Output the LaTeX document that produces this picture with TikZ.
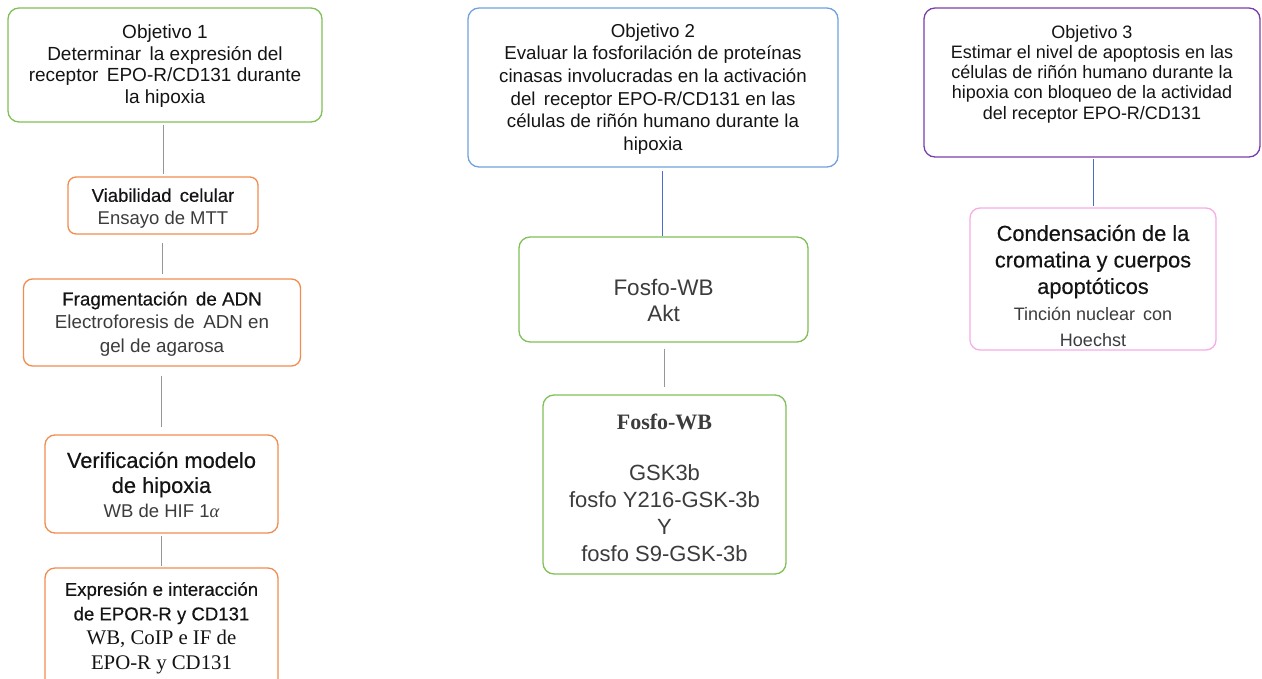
\documentclass[tikz,border=0pt]{standalone}
\usepackage{fontspec}
\setmainfont{Liberation Sans}
\newfontfamily\seriffont{Liberation Serif}
\newfontfamily\heavyfont[FakeBold=0.35]{Liberation Sans}
\definecolor{cgreen}{RGB}{128,192,88}
\definecolor{corange}{RGB}{240,140,78}
\definecolor{cblue}{RGB}{112,162,222}
\definecolor{cpurple}{RGB}{122,62,170}
\definecolor{cpink}{RGB}{246,172,230}
\definecolor{cgray}{RGB}{150,150,150}
\definecolor{cline}{RGB}{72,110,200}
\definecolor{ctext}{RGB}{20,20,20}
\definecolor{csub}{RGB}{60,60,60}
\begin{document}
\begin{tikzpicture}[x=1pt,y=-1pt,
  box/.style={draw, rounded corners=11pt, line width=1.3pt, fill=white, inner sep=0pt},
  txt/.style={align=center, text=ctext, inner sep=0pt},
  gconn/.style={draw=cgray, line width=1pt},
  bconn/.style={draw=cline, line width=1pt}]
\useasboundingbox (0,0) rectangle (1262,679);
% left column
\node[box, draw=cgreen, minimum width=314pt, minimum height=114pt] (o1) at (165,65) {};
\node[box, draw=corange, rounded corners=8pt, minimum width=190pt, minimum height=57pt] (v1) at (163,205.5) {};
\node[box, draw=corange, rounded corners=9pt, minimum width=277pt, minimum height=87pt] (f1) at (162,322.5) {};
\node[box, draw=corange, rounded corners=10pt, minimum width=233pt, minimum height=98pt] (h1) at (161.5,484) {};
\node[box, draw=corange, rounded corners=10pt, minimum width=233pt, minimum height=124pt] (e1) at (161.5,630) {};
% middle column
\node[box, draw=cblue, minimum width=370pt, minimum height=159pt] (o2) at (653,87.5) {};
\node[box, draw=cgreen, minimum width=289pt, minimum height=105pt] (a2) at (663.5,289.5) {};
\node[box, draw=cgreen, minimum width=243pt, minimum height=179pt] (g2) at (664.5,484.5) {};
% right column
\node[box, draw=cpurple, minimum width=336pt, minimum height=149pt] (o3) at (1092,82.5) {};
\node[box, draw=cpink, rounded corners=10pt, minimum width=246pt, minimum height=142pt] (c3) at (1093,279) {};
% texts
\node[txt, font=\fontsize{19}{21.7}\selectfont] (t1) at (165,66)
  {Objetivo 1\\Determinar\ \,la expresión\ del\\receptor\ \,EPO-R/CD131 durante\\la hipoxia};
\node[txt, font=\fontsize{18.7}{22.7}\selectfont] (t2) at (653,89)
  {Objetivo 2\\Evaluar la fosforilación de proteínas\\cinasas involucradas en la activación\\del\ \,receptor EPO-R/CD131 en las\\células de riñón humano durante la\\hipoxia};
\node[txt, font=\fontsize{18}{20.3}\selectfont] (t3) at (1092,74)
  {Objetivo 3\\Estimar el nivel de apoptosis en las\\células de riñón humano durante la\\hipoxia con bloqueo de la actividad\\del receptor EPO-R/CD131};
\node[txt, font=\fontsize{18.5}{23}\selectfont] (tv) at (163,208.5)
  {{\heavyfont Viabilidad\ \,celular}\\\textcolor{csub}{Ensayo de MTT}};
\node[txt, font=\fontsize{18.8}{23.5}\selectfont] (tf) at (162,324)
  {{\heavyfont Fragmentación\ \,de ADN}\\\textcolor{csub}{Electroforesis de\ \,ADN en}\\\textcolor{csub}{gel de agarosa}};
\node[txt, font=\fontsize{21.8}{25}\selectfont] (th) at (161.5,485)
  {{\heavyfont Verificación modelo}\\{\heavyfont de hipoxia}\\\textcolor{csub}{\fontsize{18.5}{25}\selectfont WB de HIF 1{\seriffont\itshape α}}};
\node[txt, font=\fontsize{18.6}{24.5}\selectfont] (te) at (161.5,628)
  {{\heavyfont Expresión e interacción}\\{\heavyfont de EPOR-R y CD131}\\{\seriffont\fontsize{20.8}{25}\selectfont WB, CoIP e IF de}\\{\seriffont\fontsize{20.8}{25}\selectfont EPO-R y CD131}};
\node[txt, font=\fontsize{22.5}{26}\selectfont, text=csub] (ta) at (663.5,300)
  {Fosfo-WB\\Akt};
\node[txt, font=\fontsize{22}{27}\selectfont, text=csub] (tg) at (664.5,488)
  {{\seriffont\bfseries Fosfo-WB}\\[24pt]GSK3b\\fosfo Y216-GSK-3b\\Y\\fosfo S9-GSK-3b};
\node[txt, font=\fontsize{21.8}{26.5}\selectfont] (tc) at (1093,286)
  {{\heavyfont Condensación de la}\\{\heavyfont cromatina y cuerpos}\\{\heavyfont apoptóticos}\\\textcolor{csub}{\fontsize{18}{28}\selectfont Tinción nuclear\ \,con}\\\textcolor{csub}{\fontsize{18}{28}\selectfont Hoechst}};
% connectors
\draw[gconn, shorten <=2pt, shorten >=2pt] (o1.south -| v1) -- (v1.north);
\draw[gconn, shorten <=8pt, shorten >=4pt] (v1.south -| f1) -- (f1.north);
\draw[gconn, shorten <=9pt, shorten >=7pt] (f1.south -| h1) -- (h1.north);
\draw[gconn, shorten <=2pt, shorten >=1pt] (h1.south -| e1) -- (e1.north);
\draw[bconn, shorten <=3pt] (o2.south -| 662,0) -- (a2.north -| 662,0);
\draw[gconn, shorten <=6pt, shorten >=7pt] (a2.south -| g2) -- (g2.north);
\draw[bconn, shorten <=1pt, shorten >=1pt] (o3.south -| c3) -- (c3.north);
\end{tikzpicture}
\end{document}
